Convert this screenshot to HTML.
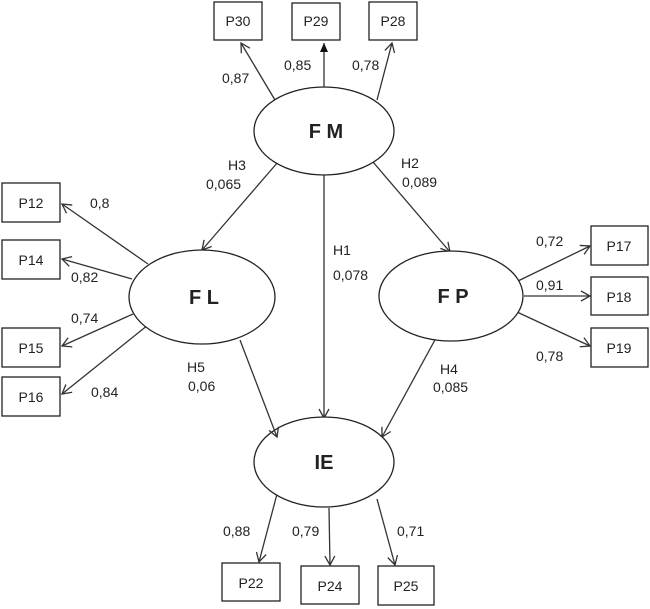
<!DOCTYPE html><html><head><style>body{margin:0;background:#fff}svg{display:block}text{font-family:"Liberation Sans",sans-serif;font-size:14px;fill:#222}</style></head><body>
<svg width="650" height="609" viewBox="0 0 650 609">
<defs><marker id="a" markerWidth="12" markerHeight="12" refX="10" refY="6" orient="auto" markerUnits="userSpaceOnUse"><path d="M1,1 L10,6 L1,11" fill="none" stroke="#333" stroke-width="1.3"/></marker>
<marker id="f" markerWidth="12" markerHeight="12" refX="10" refY="6" orient="auto" markerUnits="userSpaceOnUse"><path d="M1,2 L10,6 L1,10Z" fill="#111"/></marker></defs>
<g fill="#fff" stroke="#222" stroke-width="1.3">
<rect x="214" y="2" width="48" height="38"/><rect x="292" y="3" width="48" height="37"/><rect x="369" y="2" width="48" height="38"/>
<rect x="2" y="183" width="58" height="39"/><rect x="2" y="240" width="58" height="39"/><rect x="2" y="328" width="58" height="39"/><rect x="2" y="377" width="58" height="39"/>
<rect x="591" y="226" width="57" height="39"/><rect x="591" y="277" width="57" height="38"/><rect x="591" y="328" width="57" height="39"/>
<rect x="222" y="563" width="58" height="38"/><rect x="301" y="566" width="58" height="38"/><rect x="378" y="566" width="56" height="39"/>
</g>
<g stroke="#333" stroke-width="1.3" fill="none" marker-end="url(#a)">
<line x1="275" y1="100" x2="241" y2="43"/><line x1="324" y1="87" x2="324" y2="43" marker-end="url(#f)"/><line x1="377" y1="100" x2="392" y2="43"/>
<line x1="278" y1="162" x2="202" y2="250"/><line x1="373" y1="162" x2="450" y2="252"/><line x1="324" y1="175" x2="324" y2="418"/>
<line x1="436" y1="338" x2="382" y2="437"/>
<line x1="148" y1="264" x2="62" y2="204"/><line x1="132" y1="279" x2="62" y2="259"/><line x1="133" y1="314" x2="62" y2="346"/><line x1="148" y1="325" x2="62" y2="394"/>
<line x1="518" y1="281" x2="590" y2="246"/><line x1="524" y1="296" x2="590" y2="296"/><line x1="517" y1="312" x2="590" y2="346"/>
<line x1="277" y1="494" x2="259" y2="562"/><line x1="329" y1="508" x2="330" y2="565"/><line x1="377" y1="499" x2="395" y2="565"/>
</g>
<g fill="#fff" stroke="#222" stroke-width="1.3">
<ellipse cx="324" cy="131" rx="70" ry="44"/><ellipse cx="202" cy="297" rx="73" ry="47"/><ellipse cx="451" cy="296" rx="72" ry="45"/><ellipse cx="324" cy="462" rx="70" ry="45"/>
</g>
<line x1="240" y1="340" x2="277" y2="437" stroke="#333" stroke-width="1.3" marker-end="url(#a)"/>
<g text-anchor="middle"><text x="326" y="138" style="font-size:20px;font-weight:bold">F M</text><text x="204" y="304" style="font-size:20px;font-weight:bold">F L</text><text x="453" y="303" style="font-size:20px;font-weight:bold">F P</text><text x="324" y="469" style="font-size:20px;font-weight:bold">IE</text></g>
<g text-anchor="middle">
<text x="238" y="26">P30</text><text x="316" y="26">P29</text><text x="393" y="26">P28</text>
<text x="31" y="208">P12</text><text x="31" y="265">P14</text><text x="31" y="353">P15</text><text x="31" y="402">P16</text>
<text x="619" y="251">P17</text><text x="619" y="302">P18</text><text x="619" y="353">P19</text>
<text x="251" y="588">P22</text><text x="330" y="591">P24</text><text x="406" y="591">P25</text>
</g>
<g>
<text x="222" y="83">0,87</text><text x="284" y="70">0,85</text><text x="352" y="70">0,78</text>
<text x="228" y="170">H3</text><text x="206" y="189">0,065</text><text x="401" y="168">H2</text><text x="402" y="187">0,089</text>
<text x="333" y="255">H1</text><text x="333" y="280">0,078</text>
<text x="90" y="208">0,8</text><text x="71" y="282">0,82</text><text x="71" y="323">0,74</text><text x="91" y="397">0,84</text>
<text x="187" y="372">H5</text><text x="188" y="391">0,06</text><text x="440" y="374">H4</text><text x="433" y="392">0,085</text>
<text x="536" y="246">0,72</text><text x="536" y="290">0,91</text><text x="536" y="361">0,78</text>
<text x="223" y="536">0,88</text><text x="292" y="536">0,79</text><text x="397" y="536">0,71</text>
</g>
</svg></body></html>
